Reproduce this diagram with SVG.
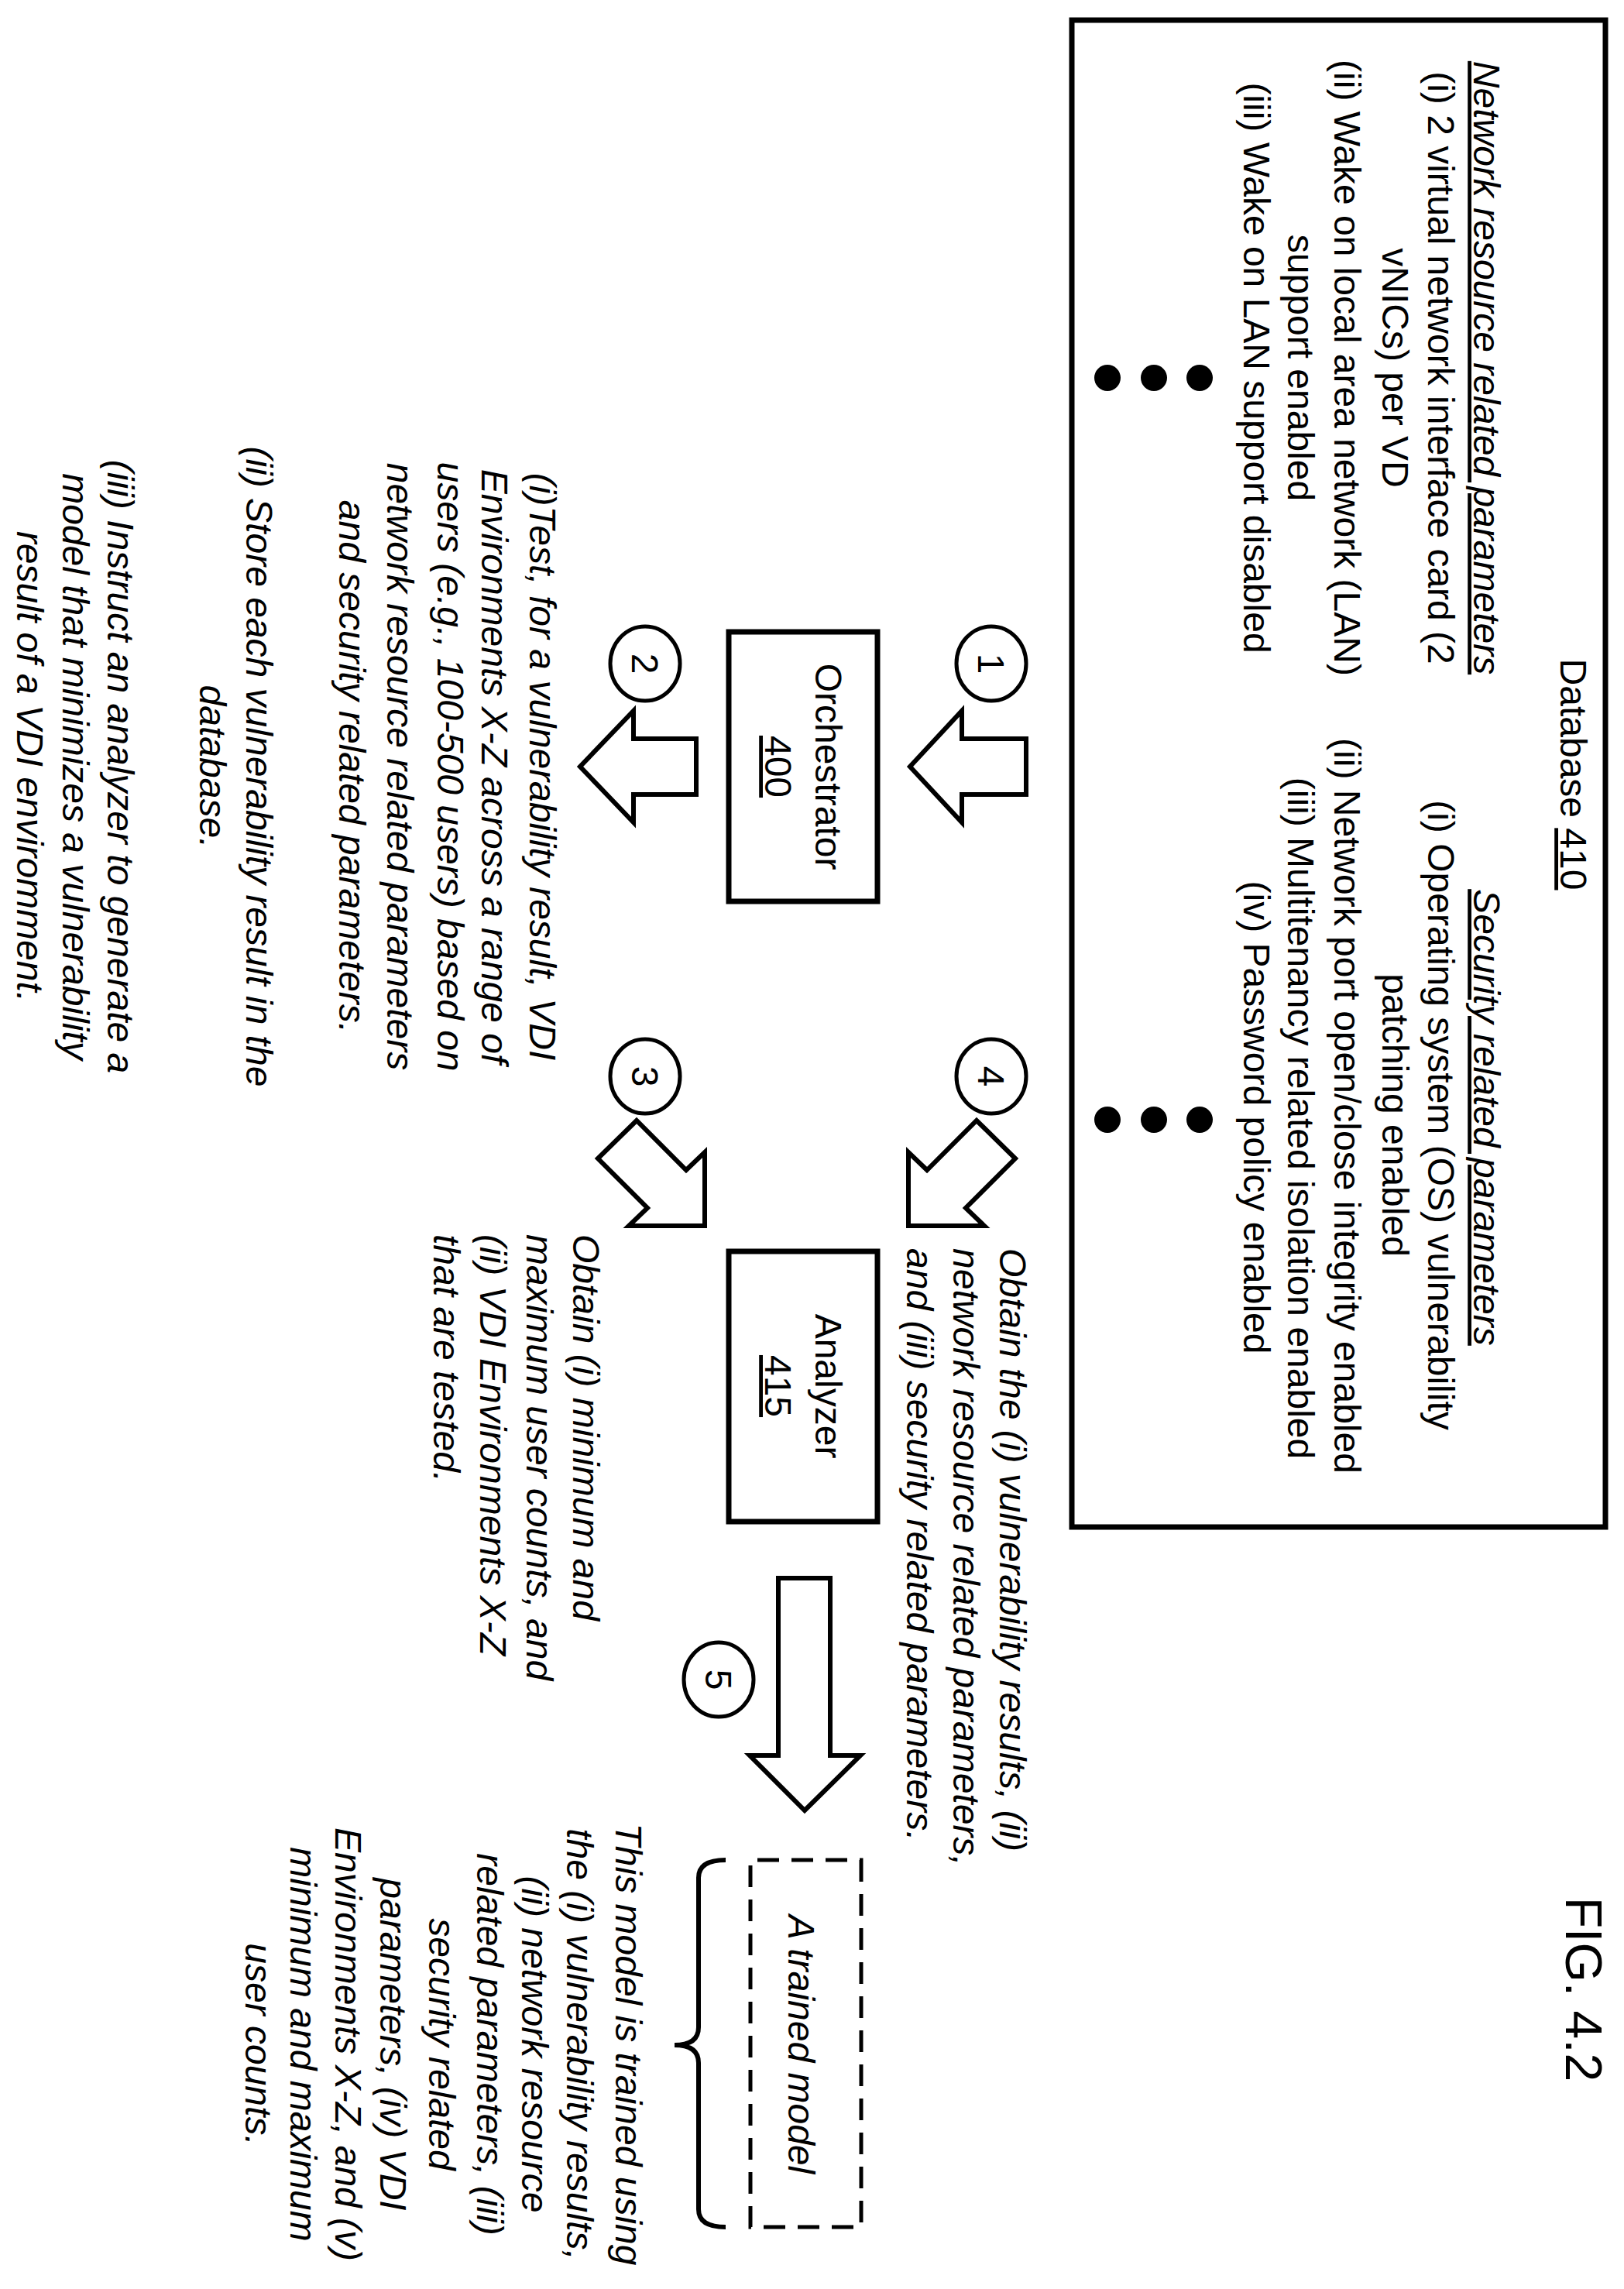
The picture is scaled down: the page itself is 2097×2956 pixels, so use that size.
<svg xmlns="http://www.w3.org/2000/svg" width="2097" height="2956" viewBox="0 0 2097 2956">
<style>
text{font-family:"Liberation Sans",Arial,sans-serif;font-size:48px;fill:#000}
.i{font-style:italic}
.m{text-anchor:middle}
.u{text-decoration:underline}
.box{fill:none;stroke:#000;stroke-width:7}
.arr{fill:#fff;stroke:#000;stroke-width:6;stroke-linejoin:miter}
.c{fill:none;stroke:#000;stroke-width:5}
</style>
<rect width="2097" height="2956" fill="#fff"/>
<g transform="matrix(0,1,-1,0,2097,0)">
<g id="database">
<rect class="box" x="26" y="24" width="1946" height="689"/>
<text class="m" x="1000" y="82">Database <tspan class="u">410</tspan></text>
<text class="m i u" x="475" y="194">Network resource related parameters</text>
<text class="m" x="475" y="253">(i) 2 virtual network interface card (2</text>
<text class="m" x="475" y="312">vNICs) per VD</text>
<text class="m" x="475" y="374">(ii) Wake on local area network (LAN)</text>
<text class="m" x="475" y="434">support enabled</text>
<text class="m" x="475" y="491">(iii) Wake on LAN support disabled</text>
<circle cx="488" cy="548" r="17"/><circle cx="488" cy="607" r="17"/><circle cx="488" cy="667" r="17"/>
<text class="m i u" x="1443" y="194">Security related parameters</text>
<text class="m" x="1440" y="253">(i) Operating system (OS) vulnerability</text>
<text class="m" x="1440" y="312">patching enabled</text>
<text class="m" x="1428" y="374">(ii) Network port open/close integrity enabled</text>
<text class="m" x="1444" y="434">(iii) Multitenancy related isolation enabled</text>
<text class="m" x="1443" y="491">(iv) Password policy enabled</text>
<circle cx="1446" cy="548" r="17"/><circle cx="1446" cy="607" r="17"/><circle cx="1446" cy="667" r="17"/>
</g>
<g id="orchestrator">
<rect class="box" x="816" y="964" width="348" height="192"/>
<text class="m" x="990" y="1044">Orchestrator</text>
<text class="m u" x="990" y="1109">400</text>
</g>
<g id="analyzer">
<rect class="box" x="1616" y="964" width="349" height="192"/>
<text class="m" x="1790" y="1044">Analyzer</text>
<text class="m u" x="1790" y="1109">415</text>
</g>
<g id="trained-model">
<rect x="2402" y="985" width="474" height="143" fill="none" stroke="#000" stroke-width="5" stroke-dasharray="28,16"/>
<text class="m i" x="2640" y="1079">A trained model</text>
<path d="M2402,1160 Q2402,1195 2425,1195 L2618,1195 Q2641,1195 2641,1226 Q2641,1195 2664,1195 L2853,1195 Q2876,1195 2876,1160" fill="none" stroke="#000" stroke-width="6"/>
</g>
<g id="step-labels">
<ellipse class="c" cx="857" cy="817" rx="48" ry="45"/><text class="m" x="857" y="834">1</text>
<ellipse class="c" cx="857" cy="1264" rx="48" ry="45"/><text class="m" x="857" y="1281">2</text>
<ellipse class="c" cx="1390" cy="1264" rx="48" ry="45"/><text class="m" x="1390" y="1281">3</text>
<ellipse class="c" cx="1390" cy="817" rx="48" ry="45"/><text class="m" x="1390" y="834">4</text>
<ellipse class="c" cx="2169" cy="1169" rx="48" ry="45"/><text class="m" x="2169" y="1186">5</text>
</g>
<g id="connectors">
<path class="arr" d="M954,772 L1026,772 L1026,855 L1062,855 L990,922 L918,855 L954,855 Z"/>
<path class="arr" d="M954,1198 L1026,1198 L1026,1279 L1062,1279 L990,1348 L918,1279 L954,1279 Z"/>
<path class="arr" d="M1583,924 L1488,924 L1511,900 L1447,836 L1496,786 L1560,850 L1583,826 Z"/>
<path class="arr" d="M1583,1187 L1488,1187 L1511,1211 L1447,1275 L1496,1325 L1560,1261 L1583,1285 Z"/>
<path class="arr" d="M2038,1025 L2267,1025 L2267,986 L2338,1058 L2267,1129 L2267,1092 L2038,1092 Z"/>
</g>
<g id="text-step2" class="i">
<text class="m" x="990" y="1413">(i)Test, for a vulnerability result,  VDI</text>
<text class="m" x="990" y="1475">Environments X-Z across a range of</text>
<text class="m" x="990" y="1532">users (e.g.,  100-500 users) based on</text>
<text class="m" x="990" y="1597">network resource related parameters</text>
<text class="m" x="990" y="1659">and security related parameters.</text>
<text class="m" x="990" y="1779">(ii) Store each vulnerability result in the</text>
<text class="m" x="990" y="1839">database.</text>
<text class="m" x="990" y="1958">(iii) Instruct an analyzer to generate a</text>
<text class="m" x="990" y="2016">model that minimizes a vulnerability</text>
<text class="m" x="990" y="2075">result of a VDI enviromment.</text>
</g>
<g id="text-step4" class="i">
<text x="1612" y="806">Obtain the (i) vulnerability results, (ii)</text>
<text x="1612" y="866">network resource related parameters,</text>
<text x="1612" y="926">and (iii) security related parameters.</text>
</g>
<g id="text-step3" class="i">
<text x="1594" y="1357">Obtain (i) minimum and</text>
<text x="1594" y="1417">maximum user counts, and</text>
<text x="1594" y="1477">(ii) VDI Environments X-Z</text>
<text x="1594" y="1537">that are tested.</text>
</g>
<g id="text-model" class="i">
<text class="m" x="2640" y="1302">This model is trained using</text>
<text class="m" x="2640" y="1365">the (i) vulnerability results,</text>
<text class="m" x="2640" y="1423">(ii) network resource</text>
<text class="m" x="2640" y="1481">related parameters, (iii)</text>
<text class="m" x="2640" y="1543">security related</text>
<text class="m" x="2640" y="1606">parameters, (iv) VDI</text>
<text class="m" x="2640" y="1664">Environments X-Z, and (v)</text>
<text class="m" x="2640" y="1722">minimum and maximum</text>
<text class="m" x="2640" y="1780">user counts.</text>
</g>
<text x="2569" y="75" class="m" style="font-size:66px">FIG. 4.2</text>
</g>
</svg>
